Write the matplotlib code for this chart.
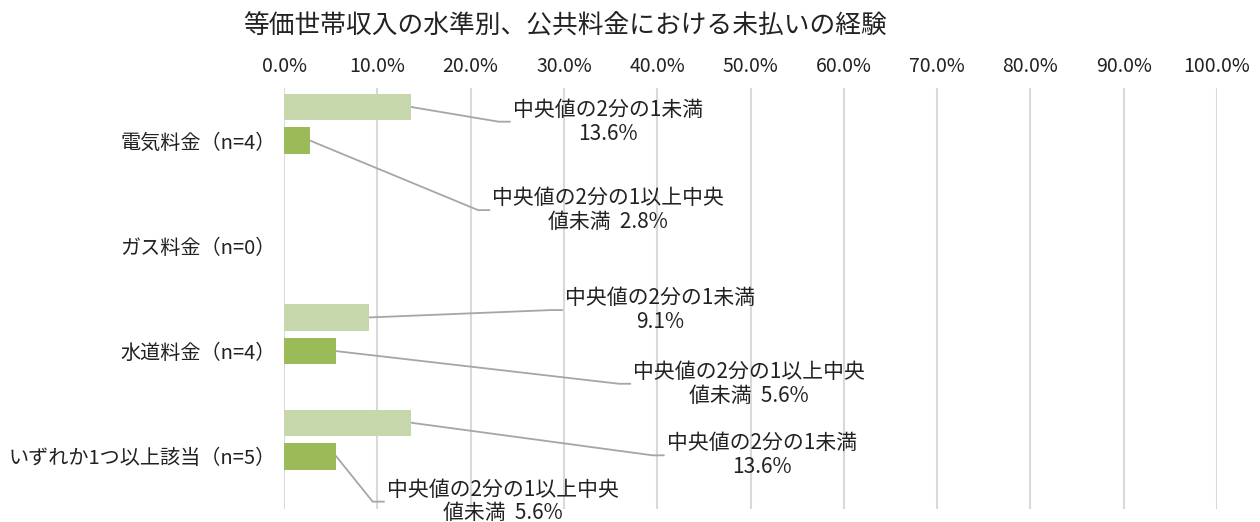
import matplotlib
matplotlib.use("Agg")
import matplotlib.pyplot as plt
import numpy as np

plt.rcParams['font.family'] = ['Noto Sans CJK JP', 'DejaVu Sans']

# ---- data ----
categories = ['電気料金（n=4）', 'ガス料金（n=0）', '水道料金（n=4）', 'いずれか1つ以上該当（n=5）']
series_names = ['中央値の2分の1未満', '中央値の2分の1以上中央値未満']
below_half = [13.6, 0.0, 9.1, 13.6]
half_to_median = [2.8, 0.0, 5.6, 5.6]
label_text = ['中央値の2分の1未満\n{:.1f}%', '中央値の2分の1以上中央\n値未満  {:.1f}%']

colors = ['#C5D7AB', '#9BBB59']

# label anchors (left x in %, centre y in category units) per series / category
label_pos = {
    (0, 0): (24.5, -0.18), (1, 0): (22.3, 0.66),
    (0, 2): (30.1, 1.61), (1, 2): (37.4, 2.31),
    (0, 3): (41.0, 2.99), (1, 3): (11.0, 3.43),
}

fig = plt.figure(figsize=(12.6, 5.22), dpi=100)
ax = fig.add_axes([0.2254, 0.0249, 0.7405, 0.8065])

y = np.arange(len(categories))
offsets = [-0.32, 0.0]
bar_h = 0.25

for s, vals in enumerate([below_half, half_to_median]):
    for i, v in enumerate(vals):
        if v <= 0:
            continue
        yb = y[i] + offsets[s]
        ax.barh(yb, v, height=bar_h, color=colors[s], zorder=3)
        tx, ty = label_pos[(s, i)]
        ax.plot([v, tx - 1.5, tx - 0.3], [yb, ty, ty], color='#A6A6A6', lw=1.3, zorder=2,
                clip_on=False)
        ax.text(tx, ty, label_text[s].format(v), ha='left', va='center',
                multialignment='center', fontsize=15, color='#222222', linespacing=1.1)

ax.set_xlim(0, 100)
ax.set_ylim(3.5, -0.5)
ax.set_xticks(np.arange(0, 101, 10))
ax.set_xticklabels([f'{t:.1f}%' for t in range(0, 101, 10)])
ax.xaxis.tick_top()
ax.set_yticks(y)
ax.set_yticklabels(categories)
ax.tick_params(axis='x', length=0, pad=8, labelsize=14, labelcolor='#222222')
ax.tick_params(axis='y', length=0, pad=6, labelsize=14.5, labelcolor='#222222')
for sp in ax.spines.values():
    sp.set_visible(False)
ax.grid(axis='x', color='#D9D9D9', lw=1.5, zorder=0)
ax.set_axisbelow(True)

fig.text(565 / 1260, 1 - 27 / 522, '等価世帯収入の水準別、公共料金における未払いの経験',
         ha='center', va='center', fontsize=18.5, color='#222222')

fig.savefig('out.png', dpi=100)
